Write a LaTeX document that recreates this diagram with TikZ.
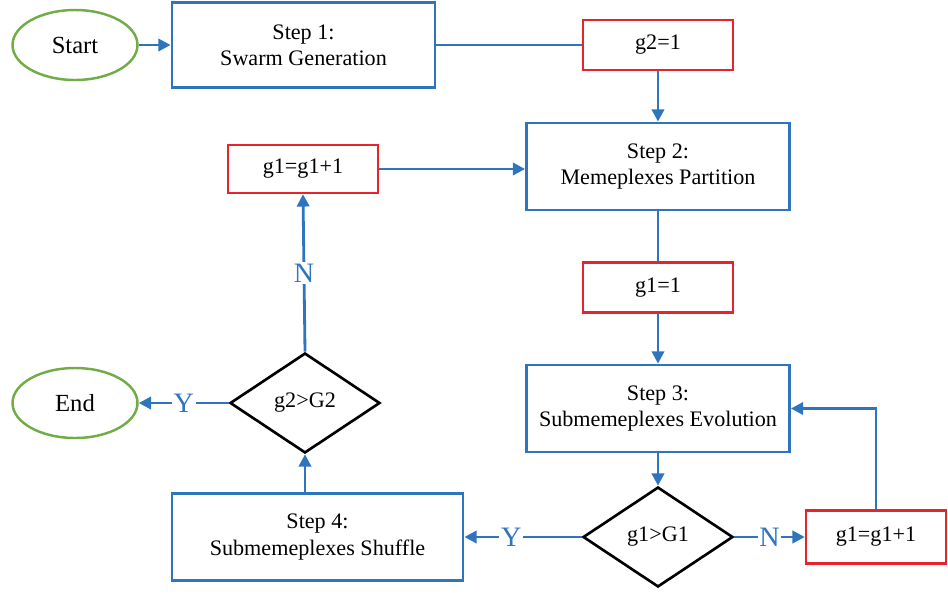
\documentclass[tikz,border=0pt]{standalone}
\usepackage{fontspec}
\setmainfont{Liberation Serif}
\usetikzlibrary{arrows.meta,shapes.geometric}
\definecolor{flowblue}{RGB}{46,117,190}
\definecolor{flowred}{RGB}{232,36,43}
\definecolor{flowgreen}{RGB}{112,173,71}

\begin{document}
\begin{tikzpicture}[
	steps/.style={draw=flowblue, line width=1.6pt, align=center, inner sep=2pt, font=\fontsize{12.6}{15}\selectfont},
	counter/.style={draw=flowred, line width=1.4pt, minimum width=3cm, minimum height=1cm, font=\fontsize{12.6}{15}\selectfont},
	terminal/.style={ellipse, draw=flowgreen, line width=1.4pt, minimum width=2.5cm, minimum height=1.4cm, font=\fontsize{14}{16}\selectfont},
	check/.style={diamond, draw=black, line width=1.5pt, minimum width=3cm, minimum height=2cm, inner sep=0pt, font=\fontsize{12.6}{15}\selectfont},
	flow/.style={draw=flowblue, line width=1.6pt},
	flowarrow/.style={flow, -{Triangle[length=7pt,width=7pt]}},
	answer/.style={fill=white, text=flowblue, inner sep=1pt, font=\fontsize{16}{18}\selectfont}
	]
			%%%%% START %%%%%
			
			\useasboundingbox (0, 0) rectangle (18.96, -11.88);
			
			\node[terminal] (start) at (1.5, -0.9) {Start};
			\node[steps, minimum width=5.26cm, minimum height=1.7cm] (step1) at (6.07, -0.9) {Step 1:\\Swarm Generation};
			\node[counter] (gtwo) at (13.16, -0.9) {g2=1};
			
			\node[steps, minimum width=5.26cm, minimum height=1.74cm] (step2) at (13.16, -3.33) {Step 2:\\Memeplexes Partition};
			\node[counter, minimum height=0.96cm] (gincup) at (6.06, -3.38) {g1=g1+1};
			\node[counter] (gone) at (13.16, -5.75) {g1=1};
			
			\node[steps, minimum width=5.26cm, minimum height=1.74cm] (step3) at (13.16, -8.17) {Step 3:\\Submemeplexes Evolution};
			\node[check] (gonecheck) at (13.16, -10.74) {g1>G1};
			\node[counter, minimum width=2.8cm, minimum height=1.06cm] (gincright) at (17.52, -10.74) {g1=g1+1};
			
			\node[steps, minimum width=5.82cm, minimum height=1.74cm] (step4) at (6.35, -10.74) {Step 4:\\Submemeplexes Shuffle};
			\node[check] (gtwocheck) at (6.1, -8.06) {g2>G2};
			\node[terminal] (finish) at (1.5, -8.06) {End};
			
			\draw[flowarrow] (start) -- (step1);
			\draw[flow] (step1) -- (gtwo);
			\draw[flowarrow] (gtwo) -- (step2);
			\draw[flowarrow] (gincup) -- (gincup -| step2.west);
			\draw[flow] (step2) -- (gone);
			\draw[flowarrow] (gone) -- (step3);
			\draw[flowarrow] (step3) -- (gonecheck);
			
			\draw[flowarrow] (gonecheck.east) -- node[answer] (nright) {N} (gincright.west);
			\draw[flowarrow] (gincright.north) |- (step3.east);
			\draw[flowarrow] (gonecheck.west) -- node[answer, pos=0.6] (yleft) {Y} (gonecheck -| step4.east);
			
			\draw[flowarrow] (gtwocheck |- step4.north) -- (gtwocheck.south);
			\draw[flowarrow] (gtwocheck.north) -- node[answer] (nup) {N} (gincup.south);
			\draw[flowarrow] (gtwocheck.west) -- node[answer] (yend) {Y} (finish.east);
			
			%%%%% END %%%%%
\end{tikzpicture}
\end{document}
